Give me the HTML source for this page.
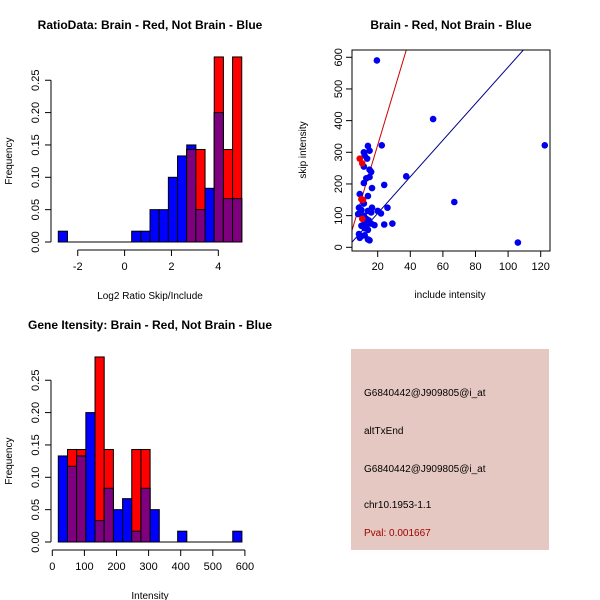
<!DOCTYPE html>
<html><head><meta charset="utf-8"><style>
body{margin:0;background:#fff}
svg{display:block;font-family:"Liberation Sans",Arial,sans-serif}
</style></head><body>
<svg id="c" width="600" height="600" xmlns="http://www.w3.org/2000/svg"></svg>
<script>
// Ratio histogram data
const ratioBinStart = -2.83, ratioBinWidth = 0.3915;
const ratioBlue = [0.0167,0,0,0,0,0,0,0,0.0167,0.0167,0.05,0.05,0.1,0.133,0.15,0.05,0.083,0.2,0.067,0.067];
const ratioRed  = [0,0,0,0,0,0,0,0,0,0,0,0,0,0,0.143,0.143,0,0.286,0.143,0.286];
const ratioXTicks = [-2,0,2,4];
const freqTicks = [0,0.05,0.10,0.15,0.20,0.25];
const freqTickLabels = ["0.00","0.05","0.10","0.15","0.20","0.25"];
// Intensity histogram data
const intBinStart = 18.7, intBinWidth = 28.6;
const intBlue = [0.133,0.117,0.133,0.2,0.033,0.083,0.05,0.067,0.0167,0.083,0.05,0,0,0.0167,0,0,0,0,0,0.0167];
const intRed  = [0,0.143,0.143,0,0.286,0.143,0,0,0.143,0.143,0,0,0,0,0,0,0,0,0,0];
const intXTicks = [0,100,200,300,400,500,600];
// Scatter data
const blueInc = [19.5,54,122.5,22.5,14,15,11.5,12,13.5,11.5,15,16,15,13,11.5,24,16.5,37.5,14,9,11.5,67,16.5,26,8.5,10,14,20,16,22,8,11.5,13,14.5,12,16,18,24,29,10,13,12,14,8.5,10,12,14,15,106,9];
const blueSkip = [590,405,322,322,320,305,300,290,280,255,245,238,222,218,203,197,187,224,162,168,138,143,125,125,125,118,115,115,110,107,105,100,90,85,80,75,70,72,75,68,65,60,55,42,35,38,25,22,15,30];
const redInc = [9,10.5,10,11,10.5];
const redSkip = [280,265,152,150,90];
const redLine = [-19,17.1];   // intercept, slope
const blueLine = [-8,5.77];
const scXTicks = [20,40,60,80,100,120];
const scYTicks = [0,100,200,300,400,500,600];

const svg = document.getElementById('c');
const NS = 'http://www.w3.org/2000/svg';
function mk(tag, attrs, parent){const e=document.createElementNS(NS,tag);for(const k in attrs)e.setAttribute(k,attrs[k]);(parent||svg).appendChild(e);return e;}
function txt(s,x,y,attrs,parent){const e=mk('text',Object.assign({x:x,y:y,'font-size':11,fill:'#000','text-anchor':'middle'},attrs||{}),parent);e.textContent=s;return e;}

function hist(g, y0, blue, red, bStart, bW, xS, xTicks, title, xlab){
  const yS = v => y0 - v*647;
  for(let i=0;i<blue.length;i++){
    const x0 = xS(bStart+i*bW), x1 = xS(bStart+(i+1)*bW);
    const layers = [[blue[i],'#0000ff','blue'],[red[i],'#ff0000','red'],[Math.min(blue[i],red[i]),'#7f007f','overlap']];
    for(const [v,c,n] of layers){
      if(v<=0) continue;
      const r = mk('rect',{x:x0,y:yS(v),width:x1-x0,height:y0-yS(v),fill:c,stroke:'#000','stroke-width':1},g);
      
      
    }
  }
  mk('line',{x1:xS(bStart),x2:xS(bStart+blue.length*bW),y1:y0,y2:y0,stroke:'#000'},g);
  const ya = mk('g',{},g);  
  mk('line',{x1:51,x2:51,y1:yS(0),y2:yS(0.25),stroke:'#000'},ya);
  freqTicks.forEach((t,i)=>{mk('line',{x1:45,x2:51,y1:yS(t),y2:yS(t),stroke:'#000'},ya);
    txt(freqTickLabels[i],0,0,{transform:`translate(39,${yS(t)}) rotate(-90)`},ya);});
  const yt = txt('Frequency',0,0,{transform:`translate(12,${yS(0.125)}) rotate(-90)`,'font-size':10},g);
   
  const xa = mk('g',{},g);  
  const ay = y0+8;
  mk('line',{x1:xS(xTicks[0]),x2:xS(xTicks[xTicks.length-1]),y1:ay,y2:ay,stroke:'#000'},xa);
  xTicks.forEach(t=>{mk('line',{x1:xS(t),x2:xS(t),y1:ay,y2:ay+6,stroke:'#000'},xa);txt(String(t),xS(t),ay+20,{},xa);});
  const xt = txt(xlab,150,y0+57,{'font-size':10},g);
   
  const tt = txt(title,150,y0-213,{'font-size':12,'font-weight':'bold'},g);
   
}

const g1 = mk('g',{});  
hist(g1, 242, ratioBlue, ratioRed, ratioBinStart, ratioBinWidth, v=>124.6+v*23.43, ratioXTicks, 'RatioData: Brain - Red, Not Brain - Blue', 'Log2 Ratio Skip/Include');
const g2 = mk('g',{});  
hist(g2, 542, intBlue, intRed, intBinStart, intBinWidth, v=>52.3+v*0.321, intXTicks, 'Gene Itensity: Brain - Red, Not Brain - Blue', 'Intensity');

const g3 = mk('g',{});  
const sx = v => 377.7+(v-20)*1.63, sy = v => 247.3-v*0.3167;
const L=352,R=550,T=50,B=251;
const cp = mk('clipPath',{id:'cp'},g3); mk('rect',{x:L,y:T,width:R-L,height:B-T},cp);
[[redLine,'#cc0000','red-fit-line'],[blueLine,'#00008b','blue-fit-line']].forEach(([ln,c,n])=>{
  const a=0,b=140;
  const l = mk('line',{x1:sx(a),y1:sy(ln[0]+ln[1]*a),x2:sx(b),y2:sy(ln[0]+ln[1]*b),stroke:c,'clip-path':'url(#cp)'},g3);
   
});
blueInc.forEach((v,i)=>{const p=mk('circle',{cx:sx(v),cy:sy(blueSkip[i]),r:3.3,fill:'#0000ee'},g3);
   });
redInc.forEach((v,i)=>{const p=mk('circle',{cx:sx(v),cy:sy(redSkip[i]),r:3.3,fill:'#ee0000'},g3);
   });
mk('rect',{x:L,y:T,width:R-L,height:B-T,fill:'none',stroke:'#000'},g3);
scXTicks.forEach(t=>{mk('line',{x1:sx(t),x2:sx(t),y1:B,y2:B+6,stroke:'#000'},g3);txt(String(t),sx(t),B+19,{},g3);});
scYTicks.forEach(t=>{mk('line',{x1:L-6,x2:L,y1:sy(t),y2:sy(t),stroke:'#000'},g3);txt(String(t),0,0,{transform:`translate(${L-10},${sy(t)}) rotate(-90)`},g3);});
let e=txt('include intensity',450,298,{'font-size':10},g3);  
e=txt('skip intensity',0,0,{transform:`translate(306,150) rotate(-90)`,'font-size':10},g3);  
e=txt('Brain - Red, Not Brain - Blue',451,29,{'font-size':12,'font-weight':'bold'},g3);  

const g4 = mk('g',{});  
mk('rect',{x:351,y:349,width:198,height:201,fill:'#e6c8c2'},g4);
[['G6840442@J909805@i_at',396,'#000','probe-id'],['altTxEnd',434,'#000','event-type'],['G6840442@J909805@i_at',472,'#000','probe-id-2'],['chr10.1953-1.1',508,'#000','location'],['Pval: 0.001667',536,'#a00000','p-value']].forEach(([s,y,c,n])=>{
  const t=txt(s,364,y,{'text-anchor':'start','font-size':10,fill:c},g4);
   
});
</script>
</body></html>
